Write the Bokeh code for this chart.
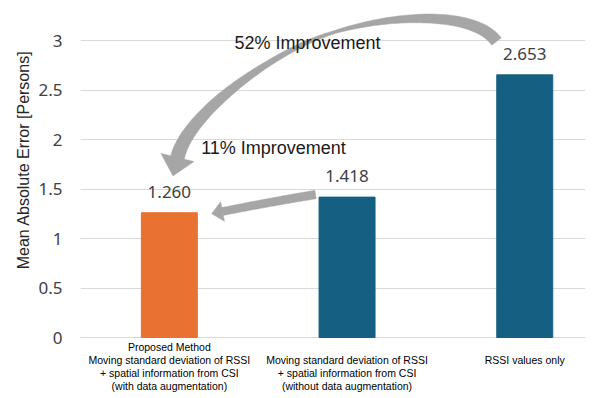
import numpy as np
from bokeh.plotting import figure
from bokeh.models import Range1d, FixedTicker, Label, LabelSet, ColumnDataSource, Title
from bokeh.core.properties import value
from bokeh.embed import file_html
from bokeh.resources import INLINE

# ---------------- data ----------------
categories = [
    "Proposed Method\nMoving standard deviation of RSSI\n+ spatial information from CSI\n(with data augmentation)",
    "\nMoving standard deviation of RSSI\n+ spatial information from CSI\n(without data augmentation)",
    "\nRSSI values only",
]
positions = [1, 2, 3]
mae = [1.260, 1.418, 2.653]
value_labels = ["1.260", "1.418", "2.653"]
bar_colors = ["#E97132", "#156082", "#156082"]
y_ticks = [0, 0.5, 1, 1.5, 2, 2.5, 3]
y_tick_labels = ["0", "0.5", "1", "1.5", "2", "2.5", "3"]
improvement_texts = ["52% Improvement", "11% Improvement"]
y_title = "Mean Absolute Error [Persons]"

# ---------------- layout ----------------
W, H = 600, 398
PAGE = 0
FRAME_L, FRAME_R = 80, 585      # page pixel coords
FRAME_T, FRAME_B = 10, 339
ZERO_PX = 337
SY = 99.0                        # px per unit
X0 = 0.5
SX = 177.7
X1 = X0 + (FRAME_R - FRAME_L) / SX
Y1 = (ZERO_PX - FRAME_T) / SY
Y0 = (ZERO_PX - FRAME_B) / SY

def px2data(px, py):
    return X0 + (px - FRAME_L) / SX, (ZERO_PX - py) / SY

p = figure(width=W, height=H, output_backend="svg", toolbar_location=None,
           x_range=Range1d(X0, X1), y_range=Range1d(Y0, Y1),
           min_border_left=FRAME_L - PAGE, min_border_right=W - (FRAME_R - PAGE),
           min_border_top=FRAME_T - PAGE, min_border_bottom=H - (FRAME_B - PAGE))
p.outline_line_color = None
p.background_fill_color = "white"
p.border_fill_color = "white"

# x axis with multi-line category labels
p.xaxis.ticker = FixedTicker(ticks=positions)
p.xaxis.major_label_overrides = {pos: c for pos, c in zip(positions, categories)}
p.xaxis.axis_line_color = None
p.xaxis.major_tick_line_color = None
p.xaxis.minor_tick_line_color = None
p.xaxis.major_tick_out = 0
p.xaxis.major_tick_in = 0
p.xaxis.major_label_standoff = 1
p.xaxis.major_label_text_font = "Liberation Sans"
p.xaxis.major_label_text_font_size = "10.5px"
p.xaxis.major_label_text_color = "#000000"
p.xaxis.major_label_text_line_height = 1.1
p.xgrid.visible = False

p.yaxis.ticker = FixedTicker(ticks=y_ticks)
p.yaxis.major_label_overrides = {t: l for t, l in zip(y_ticks, y_tick_labels)}
p.yaxis.axis_line_color = None
p.yaxis.major_tick_line_color = None
p.yaxis.minor_tick_line_color = None
p.yaxis.major_tick_out = 0
p.yaxis.major_tick_in = 0
p.yaxis.major_label_standoff = 18
p.yaxis.major_label_text_font = "Noto Sans"
p.yaxis.major_label_text_font_size = "17px"
p.yaxis.major_label_text_color = "#404040"
p.ygrid.ticker = FixedTicker(ticks=y_ticks)
p.ygrid.grid_line_color = "#d9d9d9"
p.ygrid.grid_line_width = 1

p.add_layout(Title(text=y_title, align="right", offset=40, standoff=7,
                   text_font="Liberation Sans", text_font_size="16px",
                   text_font_style="normal", text_color="#262626"), "left")

# bars
src = ColumnDataSource(dict(x=positions, top=mae, color=bar_colors, lab=value_labels))
p.vbar(x="x", top="top", width=0.315, color="color", source=src)

# ---------------- arrows ----------------
def cubic(p0, p1, p2, p3, n=80):
    t = np.linspace(0, 1, n)[:, None]
    p0, p1, p2, p3 = map(np.array, (p0, p1, p2, p3))
    return ((1 - t) ** 3) * p0 + 3 * ((1 - t) ** 2) * t * p1 + 3 * (1 - t) * t ** 2 * p2 + t ** 3 * p3

def tapered_arrow(segments, wkeys, head_len, head_w):
    pts = np.vstack([cubic(*seg) for seg in segments])
    d = np.hypot(*np.diff(pts, axis=0).T)
    pts = pts[np.concatenate([[True], d > 1e-9])]
    s = np.concatenate([[0], np.cumsum(np.hypot(*np.diff(pts, axis=0).T))])
    s /= s[-1]
    w = np.interp(s, wkeys[0], wkeys[1])
    tang = np.gradient(pts, axis=0)
    tang /= np.hypot(tang[:, 0], tang[:, 1])[:, None]
    nrm = np.stack([-tang[:, 1], tang[:, 0]], axis=1)
    left = pts + nrm * w[:, None] / 2
    right = pts - nrm * w[:, None] / 2
    end, dv, nv = pts[-1], tang[-1], nrm[-1]
    tip = end + dv * head_len
    poly = np.vstack([left, end + nv * head_w / 2, tip, end - nv * head_w / 2, right[::-1]])
    xs, ys = zip(*[px2data(a, b) for a, b in poly])
    return list(xs), list(ys)

big = tapered_arrow(
    [((496, 41), (470, 5), (360, 15), (300, 45)),
     ((300, 45), (240, 75), (185, 122), (177, 157))],
    ([0, 0.2, 0.45, 0.65, 0.8, 1.0], [12, 9, 3, 6, 10, 14]),
    head_len=19, head_w=34)
small = tapered_arrow(
    [((315, 194), (285, 199), (252, 205), (222, 211))],
    ([0, 1], [8.5, 8]),
    head_len=11, head_w=20)
p.patches(xs=[big[0], small[0]], ys=[big[1], small[1]], fill_color="#a6a6a6",
          line_color="#a6a6a6", line_width=0.5)

# ---------------- texts ----------------
p.add_layout(LabelSet(x="x", y="top", text="lab", source=src, y_offset=21,
                      text_align="center", text_baseline="middle",
                      text_font=value("Noto Sans"), text_font_size=value("17px"),
                      text_color="#404040"))

for txt, (px, py) in zip(improvement_texts, [(307, 42), (273, 147)]):
    x, y = px2data(px, py)
    p.add_layout(Label(x=x, y=y, text=txt, text_align="center", text_baseline="middle",
                       text_font="Liberation Sans", text_font_size="18px", text_color="#1a1a1a"))

open("out.html", "w").write(file_html(p, INLINE))
